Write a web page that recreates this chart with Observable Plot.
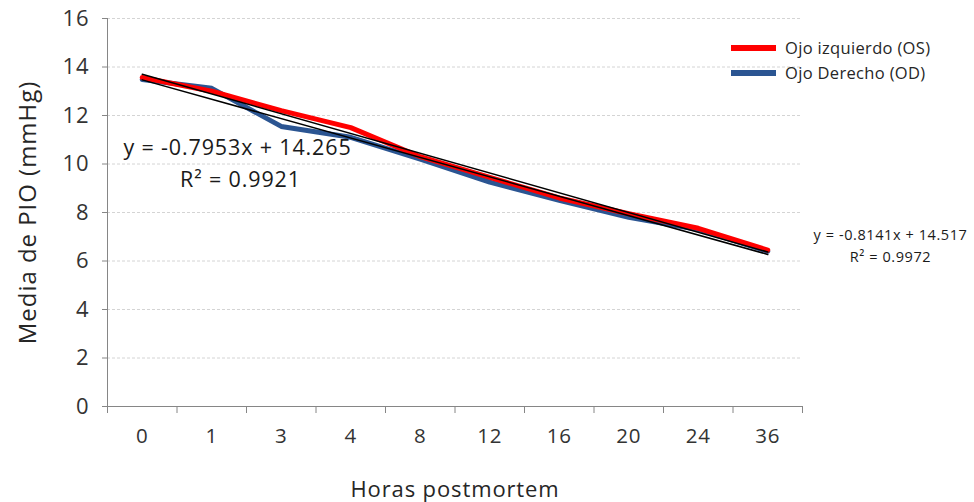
<!DOCTYPE html>
<html><head><meta charset="utf-8">
<script src="https://cdn.jsdelivr.net/npm/d3@7"></script>
<script src="https://cdn.jsdelivr.net/npm/@observablehq/plot@0.6"></script>
<style>
body{margin:0;background:#fff;}
#wrap{position:relative;width:974px;height:502px;font-family:"Open Sans",sans-serif;}
#wrap svg text{letter-spacing:0.04em;}
#wrap svg text.eq2{letter-spacing:0;}
.legend{position:absolute;left:731px;top:35px;font-size:16.5px;color:#262626;font-family:"Open Sans",sans-serif;letter-spacing:0.02em;}
.legend .row{display:flex;align-items:center;height:25px;}
.legend .sw{width:45px;height:6px;margin-right:9px;}
</style></head><body><div id="wrap"></div>
<script>
const hours = ["0","1","3","4","8","12","16","20","24","36"];
const osValues = [13.57, 13.0, 12.2, 11.5, 10.3, 9.45, 8.6, 7.95, 7.35, 6.45];
const odValues = [13.48, 13.12, 11.55, 11.1, 10.2, 9.25, 8.5, 7.8, 7.3, 6.4];
const yTicks = [0, 2, 4, 6, 8, 10, 12, 14, 16];
const eqOD = ["y = -0.7953x + 14.265", "R² = 0.9921"];
const eqOS = ["y = -0.8141x + 14.517", "R² = 0.9972"];
const seriesNames = ["Ojo izquierdo (OS)", "Ojo Derecho (OD)"];
const seriesColors = ["#ff0000", "#2b5592"];
const xTitle = "Horas postmortem";
const yTitle = "Media de PIO (mmHg)";

const data = hours.map((h, i) => ({pos: i + 0.5, h, os: osValues[i], od: odValues[i]}));
const centers = hours.map((h, i) => i + 0.5);
const bounds = d3.range(hours.length + 1);
const axisGray = "#868686";

const chart = Plot.plot({
  width: 974, height: 502,
  marginLeft: 107, marginRight: 172, marginTop: 18, marginBottom: 96,
  style: {fontFamily: "'Open Sans', sans-serif", background: "#fff"},
  x: {domain: [0, hours.length], axis: null},
  y: {domain: [0, 16], axis: null},
  marks: [
    Plot.ruleY(yTicks.filter(d => d > 0), {stroke: "#d4d4d4", strokeDasharray: "3,2", strokeWidth: 1}),
    Plot.axisY(yTicks, {tickSize: 5, tickPadding: 13, fontSize: 22, stroke: axisGray, fill: "#333", label: null}),
    Plot.axisX(centers, {tickSize: 0, tickPadding: 22, fontSize: 20.5, fill: "#333", tickFormat: d => hours[Math.round(d - 0.5)], label: null}),
    Plot.axisX(bounds, {tickSize: 7, tickFormat: () => "", stroke: axisGray, label: null}),
    Plot.ruleX([0], {stroke: axisGray}),
    Plot.ruleY([0], {stroke: axisGray}),
    Plot.line(data, {x: "pos", y: "od", stroke: seriesColors[1], strokeWidth: 5, strokeLinejoin: "round", strokeLinecap: "round"}),
    Plot.line(data, {x: "pos", y: "os", stroke: seriesColors[0], strokeWidth: 5, strokeLinejoin: "round", strokeLinecap: "round"}),
    Plot.linearRegressionY(data, {x: "pos", y: "od", ci: 0, stroke: "#000", strokeWidth: 1.5}),
    Plot.linearRegressionY(data, {x: "pos", y: "os", ci: 0, stroke: "#000", strokeWidth: 1.5}),
    Plot.text([eqOD[0]], {frameAnchor: "top-left", dx: 130, dy: 130, textAnchor: "middle", lineAnchor: "middle", fontSize: 21.5, fill: "#1a1a1a"}),
    Plot.text([eqOD[1]], {frameAnchor: "top-left", dx: 133, dy: 162, textAnchor: "middle", lineAnchor: "middle", fontSize: 21.5, fill: "#1a1a1a"}),
    Plot.text([eqOS[0]], {frameAnchor: "top-left", dx: 783, dy: 217, textAnchor: "middle", lineAnchor: "middle", fontSize: 14.5, fill: "#1a1a1a", className: "eq2"}),
    Plot.text([eqOS[1]], {frameAnchor: "top-left", dx: 783, dy: 239, textAnchor: "middle", lineAnchor: "middle", fontSize: 14.5, fill: "#1a1a1a", className: "eq2"}),
    Plot.text([yTitle], {frameAnchor: "left", dx: -79, rotate: -90, textAnchor: "middle", lineAnchor: "middle", fontSize: 24, fill: "#262626"}),
    Plot.text([xTitle], {frameAnchor: "bottom", dy: 83, textAnchor: "middle", lineAnchor: "middle", fontSize: 22, fill: "#262626"})
  ]
});
const wrap = document.getElementById("wrap");
wrap.appendChild(chart);
const legend = document.createElement("div");
legend.className = "legend";
seriesNames.forEach((name, i) => {
  const row = document.createElement("div");
  row.className = "row";
  const sw = document.createElement("span");
  sw.className = "sw";
  sw.style.background = seriesColors[i];
  const t = document.createElement("span");
  t.textContent = name;
  row.appendChild(sw); row.appendChild(t);
  legend.appendChild(row);
});
wrap.appendChild(legend);
</script></body></html>
